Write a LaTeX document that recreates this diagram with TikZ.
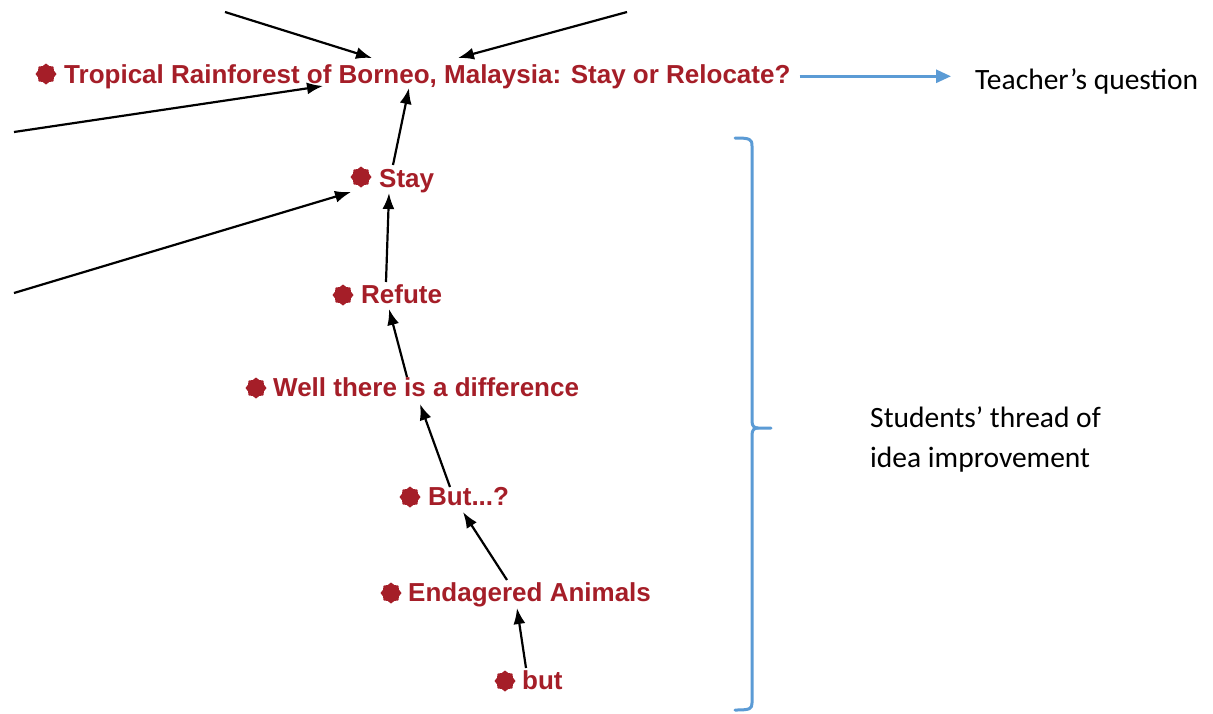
\documentclass[tikz,border=0pt]{standalone}
\usepackage{fontspec}
\setmainfont{Liberation Sans}
\newfontfamily\calib{Carlito}
\usetikzlibrary{shapes.geometric,arrows.meta}
\definecolor{ideared}{RGB}{165,30,40}
\definecolor{noteblue}{RGB}{91,155,213}
\tikzset{
  idea/.style={anchor=base west, inner sep=0pt, text=ideared,
    font=\fontsize{26}{29}\selectfont\bfseries},
  gear/.style={star, star points=8, star point ratio=1.22, minimum size=21pt,
    inner sep=0pt, fill=ideared, draw=none},
  link/.style={draw=black, line width=2.2pt, -{Latex[length=16pt,width=12pt]}},
  note/.style={anchor=base west, inner sep=0pt, text=black,
    font=\calib\fontsize{29.5}{40}\selectfont},
  bluearrow/.style={draw=noteblue, line width=2.8pt, -{Triangle[length=15pt,width=13pt]}},
  bracket/.style={draw=noteblue, line width=3pt, line cap=round, line join=round}
}
\begin{document}
\begin{tikzpicture}[x=1pt,y=-1pt]
\useasboundingbox (0,0) rectangle (1213,713);
\fill[white] (0,0) rectangle (1213,713);

% idea notes: marker and title
\node[gear] (g0) at (46,74) {};
\node[idea] (title) at (64,83) {Tropical Rainforest of Borneo, Malaysia: Stay or Relocate?};
\node[gear] (g1) at (361,177) {};
\node[idea] (stay) at (379,187) {Stay};
\node[gear] (g2) at (343,295) {};
\node[idea] (refute) at (361,303) {Refute};
\node[gear] (g3) at (256,388) {};
\node[idea] (diff) at (273,396) {Well there is a difference};
\node[gear] (g4) at (410,497) {};
\node[idea] (butq) at (428,505) {But...?};
\node[gear] (g5) at (391,593) {};
\node[idea] (animals) at (408,601) {Endagered Animals};
\node[gear] (g6) at (505,681) {};
\node[idea] (butlow) at (522,689) {but};

% build-on links
\draw[link] ([shift={(14,-22)}]stay.base west) -- ([shift={(345,5)}]title.base west);
\draw[link] ([shift={(25,-21)}]refute.base west) -- ([shift={(10,6)}]stay.base west);
\draw[link] ([shift={(134,-19)}]diff.base west) -- ([shift={(28,6)}]refute.base west);
\draw[link] ([shift={(22,-18)}]butq.base west) -- ([shift={(147,8)}]diff.base west);
\draw[link] ([shift={(99,-21)}]animals.base west) -- ([shift={(35,7)}]butq.base west);
\draw[link] ([shift={(4,-21)}]butlow.base west) -- ([shift={(109,7)}]animals.base west);

% links coming from notes outside the view
\coordinate (in1) at (225,12);
\coordinate (in2) at (627,12);
\coordinate (in3) at (14,132);
\coordinate (in4) at (14,293);
\draw[link] (in1) -- ([shift={(308,-25)}]title.base west);
\draw[link] (in2) -- ([shift={(394,-25)}]title.base west);
\draw[link] (in3) -- ([shift={(259,3)}]title.base west);
\draw[link] (in4) -- ([shift={(-28,5)}]stay.base west);

% annotations
\node[note] (teacher) at (975,89) {Teacher’s question};
\draw[bluearrow] ([xshift=9pt]title.east) -- ([xshift=-24pt]title.east -| teacher.west);

\node[note, align=left, anchor=north west] (thread) at (870,406)
  {Students’ thread of\\idea improvement};

\draw[bracket] (735,138) .. controls (750,138) and (752,139) .. (752,146)
  -- (752,421) .. controls (752,426) and (754,428) .. (758,428) -- (771,428);
\draw[bracket] (758,428) .. controls (754,428) and (752,430) .. (752,435)
  -- (752,703) .. controls (752,709) and (750,710) .. (735,710);
\end{tikzpicture}
\end{document}
